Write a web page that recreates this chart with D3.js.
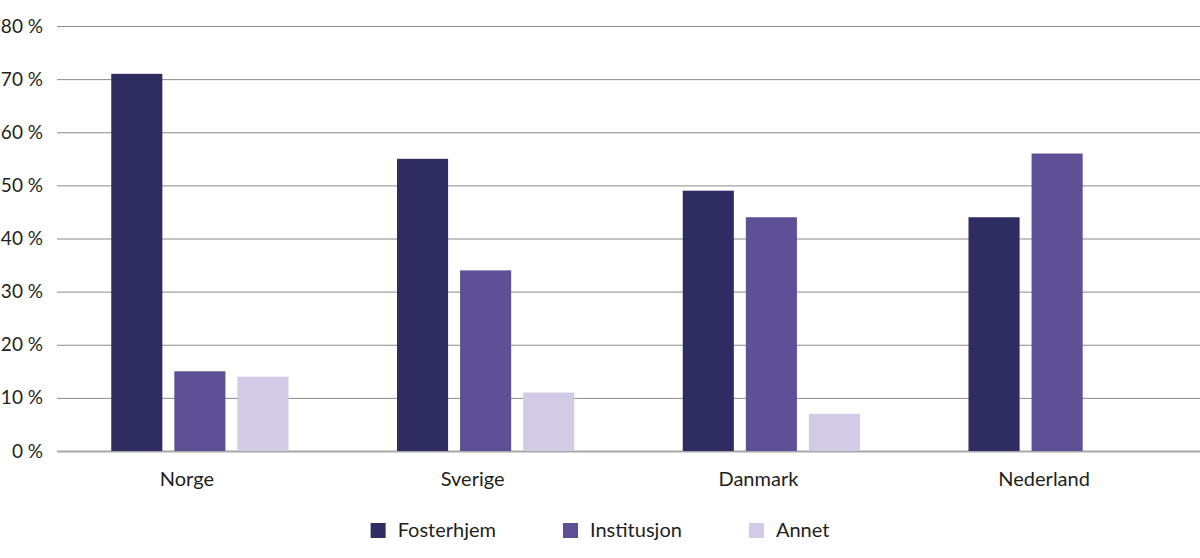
<!DOCTYPE html>
<html>
<head>
<meta charset="utf-8">
<script src="https://cdn.jsdelivr.net/npm/d3@7"></script>
<style>
  html, body { margin: 0; padding: 0; background: #fff; }
  svg { display: block; font-family: Lato, "Open Sans", sans-serif; }
</style>
</head>
<body>
<svg id="chart" width="1200" height="558"></svg>
<script>
const categories = ["Norge", "Sverige", "Danmark", "Nederland"];
const series = ["Fosterhjem", "Institusjon", "Annet"];
const fosterhjem = [71, 55, 49, 44];
const institusjon = [15, 34, 44, 56];
const annet = [14, 11, 7, null];
const yTicks = [0, 10, 20, 30, 40, 50, 60, 70, 80];
const colors = ["#2f2c62", "#5e5097", "#d2cbe5"];

const seriesValues = [fosterhjem, institusjon, annet];
const data = categories.map((c, i) => ({
  category: c,
  values: series.map((s, j) => ({ key: s, value: seriesValues[j][i] }))
}));

const svg = d3.select("#chart");
const mLeft = 57, mRight = 1200, mTop = 26, mBottom = 451;
const textColor = "#231f20";
const fontSize = 20;

const y = d3.scaleLinear().domain([0, 80]).range([mBottom, mTop]);
const x0 = d3.scaleBand().domain(categories).range([mLeft, mRight]).paddingInner(0).paddingOuter(0);
const x1 = d3.scaleBand().domain(series).range([0, x0.bandwidth()]).paddingInner(0.19).paddingOuter(0.86);
const color = d3.scaleOrdinal().domain(series).range(colors);

// gridlines + y labels
const yAxis = d3.axisLeft(y).tickValues(yTicks).tickSize(-(mRight - mLeft)).tickPadding(14)
  .tickFormat(d => d + " %");
const gy = svg.append("g").attr("transform", `translate(${mLeft},0)`).call(yAxis);
gy.select(".domain").remove();
gy.selectAll(".tick line")
  .attr("stroke", d => d === 0 ? "#a7a7a7" : "#8a8a8a")
  .attr("stroke-width", d => d === 0 ? 2 : 1);
gy.selectAll(".tick text")
  .attr("fill", textColor)
  .attr("font-size", 19)
  .attr("font-family", "Lato, 'Open Sans', sans-serif");

// bars
const groups = svg.append("g").selectAll("g")
  .data(data).join("g")
  .attr("transform", d => `translate(${x0(d.category)},0)`);
groups.selectAll("rect")
  .data(d => d.values.filter(v => v.value != null))
  .join("rect")
  .attr("x", d => x1(d.key))
  .attr("width", x1.bandwidth())
  .attr("y", d => y(d.value))
  .attr("height", d => y(0) - y(d.value))
  .attr("fill", d => color(d.key));

// x labels
const xAxis = d3.axisBottom(x0).tickSize(0).tickPadding(0);
const gx = svg.append("g").attr("transform", `translate(-13,${mBottom})`).call(xAxis);
gx.select(".domain").remove();
gx.selectAll(".tick text")
  .attr("y", 34.5)
  .attr("dy", 0)
  .attr("fill", textColor)
  .attr("font-size", fontSize)
  .attr("font-family", "Lato, 'Open Sans', sans-serif");

// legend
const legend = svg.append("g");
const items = legend.selectAll("g").data(series).join("g");
items.append("rect").attr("width", 15).attr("height", 15).attr("y", 523)
  .attr("fill", d => color(d));
items.append("text").attr("x", 27).attr("y", 537)
  .attr("fill", textColor).attr("font-size", fontSize)
  .text(d => d);
let widths = [];
items.each(function () { widths.push(27 + this.querySelector("text").getComputedTextLength()); });
const gap = 67;
const total = d3.sum(widths) + gap * (widths.length - 1);
let cx = 600 - total / 2;
items.attr("transform", (d, i) => {
  const t = `translate(${cx},0)`;
  cx += widths[i] + gap;
  return t;
});
</script>
</body>
</html>
